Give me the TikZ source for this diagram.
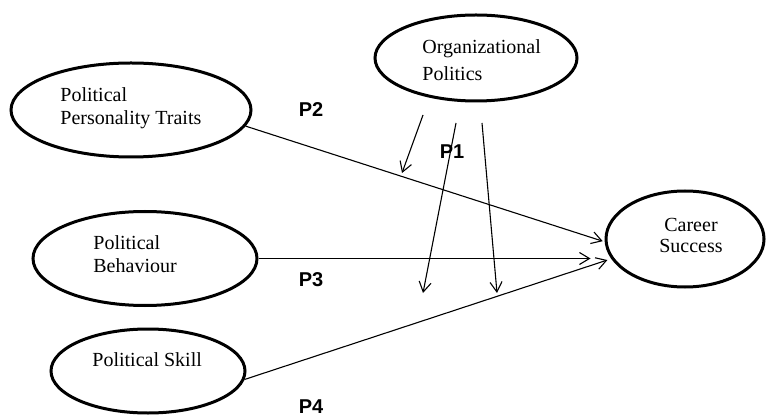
\documentclass[tikz,border=0pt]{standalone}
\usepackage{fontspec}
\setmainfont{Liberation Serif}
\newfontfamily\plabelfont{Liberation Sans}
\usetikzlibrary{shapes.geometric,arrows.meta}

\tikzset{
  oval/.style={draw, ellipse, line width=1.5pt, inner sep=0pt},
  oval text/.style={anchor=north west, inner sep=0pt, align=left, font=\fontsize{10}{11.5}\selectfont},
  conn/.style={line width=0.55pt, -{Straight Barb[length=5pt,width=6pt]}},
  plabel/.style={inner sep=0pt, font=\plabelfont\bfseries\fontsize{10}{12}\selectfont},
}

\begin{document}
\begin{tikzpicture}[x=0.5pt, y=-0.5pt]
\useasboundingbox (0,0) rectangle (769,416);

% ellipses
\node[oval, minimum width=120pt, minimum height=47pt] (ppt) at (131,110) {};
\node[oval, minimum width=112pt, minimum height=47pt] (beh) at (145,258.5) {};
\node[oval, minimum width=97pt, minimum height=42pt] (sk) at (148,371) {};
\node[oval, minimum width=101pt, minimum height=43pt] (op) at (476,58) {};
\node[oval, minimum width=79pt, minimum height=48pt] (cs) at (685,239) {};

% texts inside the ellipses
\node[oval text] (ppt-t) at (60,87) {Political\\Personality Traits};
\node[oval text] (beh-t) at (93,235) {Political\\Behaviour};
\node[oval text] (sk-t) at (92,352) {Political Skill};
\node[oval text] (op-t) at (422,39) {Organizational\\[2pt]Politics};
\node[oval text, anchor=north, align=center, font=\fontsize{10}{10.5}\selectfont] (cs-t) at (691,218) {Career\\Success};

% arrows to career success
\draw[conn, shorten >=1pt] (ppt.-8) -- (cs.182);
\draw[conn] (beh.east) -- ([xshift=-7pt]cs.west |- beh.east);
\draw[conn, shorten >=2pt] (sk.-5) -- (cs.195);

% arrows from organizational politics
\foreach \sx/\sy/\ex/\ey [count=\i] in {423/115/402/173, 456/123/423/293, 482/123/497/293}{
  \coordinate (op-s\i) at (\sx,\sy);
  \coordinate (op-e\i) at (\ex,\ey);
  \draw[conn] (op-s\i) -- (op-e\i);
}

% path labels
\foreach \p/\x/\y in {P1/452/152, P2/311/110, P3/311/280, P4/311/407}
  \node[plabel] (\p) at (\x,\y) {\p};

\end{tikzpicture}
\end{document}
